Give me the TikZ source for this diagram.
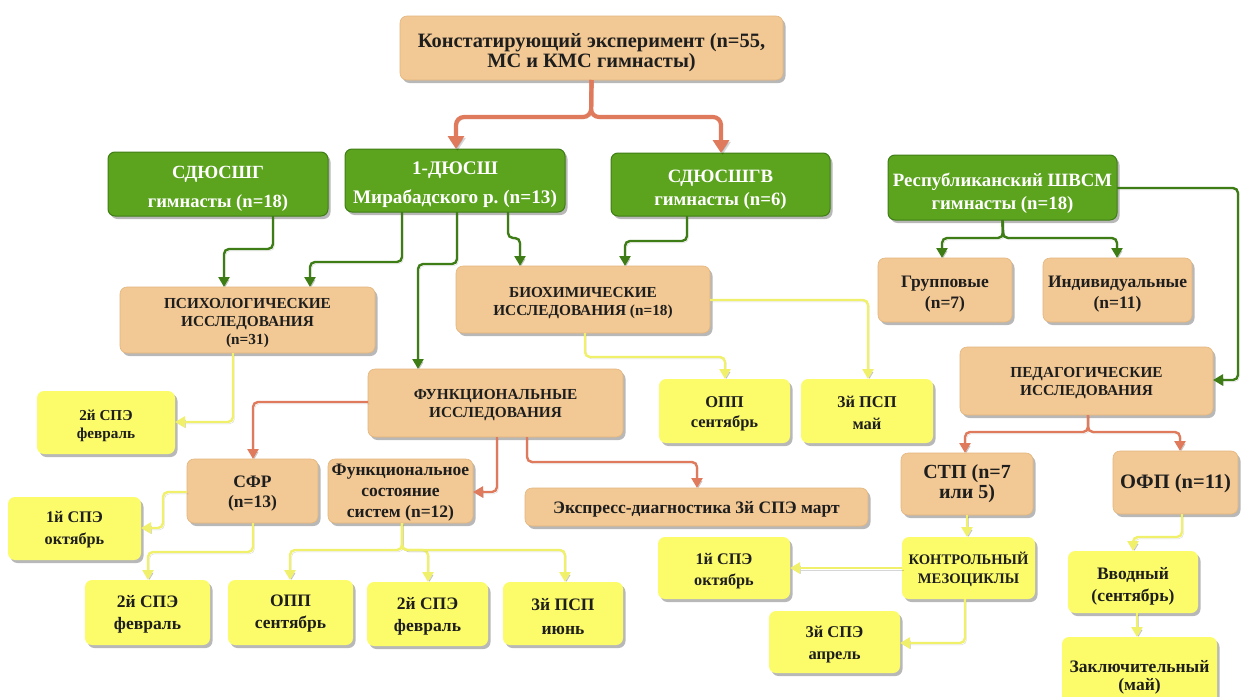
\documentclass[tikz,border=0pt]{standalone}
\usepackage{fontspec}
\setmainfont{Liberation Serif}
\frenchspacing
\usetikzlibrary{arrows.meta,shadows}
\definecolor{tanfill}{HTML}{F2C894}
\definecolor{tanedge}{HTML}{E3B57C}
\definecolor{grfill}{HTML}{5CA31E}
\definecolor{gredge}{HTML}{3F7E16}
\definecolor{yefill}{HTML}{FCFC6A}
\definecolor{garrow}{HTML}{3E7D16}
\definecolor{oarrow}{HTML}{E07A5C}
\definecolor{yarrow}{HTML}{F0F06A}
\definecolor{txt}{HTML}{1E1E1E}

% \boxat[text drop]{name}{box style}{text style}{left}{top}{right}{bottom}{text}
\newcommand{\boxat}[9][2]{%
  \node[#3, minimum width={#7-#5}, minimum height={#8-#6},
    label={[boxtext,#4,yshift=-#1pt]center:{#9}}]
    (#2) at ({(#5+#7)/2},{(#6+#8)/2}) {};}

\begin{document}
\begin{tikzpicture}[x=1pt,y=-1pt,
  base/.style={rounded corners=7pt, inner sep=0pt, outer sep=0pt,
    drop shadow={shadow xshift=2.5pt, shadow yshift=-3pt, opacity=0.28, fill=black}},
  tanbox/.style={base, fill=tanfill, draw=tanedge, line width=0.6pt},
  grbox/.style={base, fill=grfill, draw=gredge, line width=1pt},
  yebox/.style={base, fill=yefill},
  boxtext/.style={align=center, inner sep=0pt, text=txt},
  fs/.style 2 args={font=\fontsize{#1}{#2}\selectfont\bfseries},
  wt/.style={text=white},
  conn/.style={rounded corners=5pt, line width=2.4pt,
    -{Triangle[length=10pt,width=11pt]},
    preaction={draw=black, draw opacity=0.16, fill opacity=0.16,
      transform canvas={xshift=1.5pt, yshift=-1.8pt}}},
  garr/.style={conn, draw=garrow},
  oarr/.style={conn, draw=oarrow},
  yarr/.style={conn, draw=yarrow},
  oarrT/.style={conn, draw=oarrow, line width=4.2pt, rounded corners=8pt,
    -{Triangle[length=13pt,width=16pt]}}
]
\useasboundingbox[fill=white] (0,0) rectangle (1241,696);

% top level
\boxat[4.5]{top}{tanbox}{fs={20.4}{20}}{400}{16}{783}{80}{Констатирующий эксперимент (n=55,\\МС и КМС гимнасты)}

% schools
\boxat[5]{sdg}{grbox}{fs={18.6}{29},wt}{108}{152}{328}{216}{СДЮСШГ\\гимнасты (n=18)}
\boxat[4]{dus}{grbox}{fs={19.2}{29},wt}{345}{149}{565}{212}{1-ДЮСШ\\Мирабадского р. (n=13)}
\boxat[5]{sdv}{grbox}{fs={18.8}{23},wt}{611}{153}{830}{216}{СДЮСШГВ\\гимнасты (n=6)}
\boxat[6]{rep}{grbox}{fs={18.8}{23},wt}{888}{155}{1117}{220}{Республиканский ШВСМ\\гимнасты (n=18)}

% research blocks
\boxat[3]{psy}{tanbox}{fs={15.3}{18}}{120}{287}{375}{353}{ПСИХОЛОГИЧЕСКИЕ\\ИССЛЕДОВАНИЯ\\(n=31)}
\boxat[3.5]{bio}{tanbox}{fs={15.3}{18}}{456}{266}{710}{333}{БИОХИМИЧЕСКИЕ\\ИССЛЕДОВАНИЯ (n=18)}
\boxat[4.5]{grp}{tanbox}{fs={17.5}{21}}{878}{258}{1012}{322}{Групповые\\(n=7)}
\boxat[4.5]{ind}{tanbox}{fs={17.5}{21}}{1043}{258}{1192}{322}{Индивидуальные\\(n=11)}
\boxat[2.5]{ped}{tanbox}{fs={15.3}{18}}{960}{347}{1213}{415}{ПЕДАГОГИЧЕСКИЕ\\ИССЛЕДОВАНИЯ}
\boxat[2]{fun}{tanbox}{fs={15.3}{18}}{368}{369}{623}{437}{ФУНКЦИОНАЛЬНЫЕ\\ИССЛЕДОВАНИЯ}

% functional branch
\boxat[3]{sfr}{tanbox}{fs={17.5}{20}}{187}{459}{318}{523}{СФР\\(n=13)}
\boxat[2]{fss}{tanbox}{fs={17.5}{21}}{328}{459}{473}{523}{Функциональное\\состояние\\систем (n=12)}
\boxat[2]{exp}{tanbox}{fs={17.5}{21}}{525}{488}{868}{526}{Экспресс-диагностика 3й СПЭ март}

% pedagogical branch
\boxat[0]{stp}{tanbox}{fs={20}{20}}{901}{453}{1033}{515}{СТП (n=7\\или 5)}
\boxat[1.5]{ofp}{tanbox}{fs={20.5}{22}}{1113}{451}{1238}{514}{ОФП (n=11)}

% stages
\boxat[3.5]{spe2a}{yebox}{fs={15.2}{18}}{37}{391}{175}{454}{2й СПЭ\\февраль}
\boxat[1.5]{spe1a}{yebox}{fs={16.2}{22}}{8}{497}{141}{560}{1й СПЭ\\октябрь}
\boxat[1.5]{spe2b}{yebox}{fs={17.5}{22}}{85}{580}{210}{645}{2й СПЭ\\февраль}
\boxat[1.5]{opp2}{yebox}{fs={17.5}{22}}{228}{580}{353}{645}{ОПП\\сентябрь}
\boxat[2]{spe2c}{yebox}{fs={17.5}{22}}{367}{582}{488}{646}{2й СПЭ\\февраль}
\boxat[3.5]{psp3b}{yebox}{fs={17.5}{24}}{503}{582}{623}{645}{3й ПСП\\июнь}
\boxat[3]{opp1}{yebox}{fs={16.5}{20}}{659}{379}{790}{443}{ОПП\\сентябрь}
\boxat[2]{psp3a}{yebox}{fs={16.5}{22}}{801}{379}{933}{443}{3й ПСП\\май}
\boxat[3.5]{spe1b}{yebox}{fs={16.2}{21}}{658}{537}{790}{599}{1й СПЭ\\октябрь}
\boxat[3]{spe3}{yebox}{fs={16.5}{22}}{769}{611}{900}{673}{3й СПЭ\\апрель}
\boxat[1.5]{kon}{yebox}{fs={14.6}{19}}{902}{537}{1035}{599}{КОНТРОЛЬНЫЙ\\МЕЗОЦИКЛЫ}
\boxat[4]{vvo}{yebox}{fs={17.5}{22}}{1068}{551}{1198}{613}{Вводный\\(сентябрь)}
\boxat[4]{zak}{yebox}{fs={17.5}{18}}{1062}{637}{1217}{710}{Заключительный\\(май)}

% main split
\draw[oarrT] (top.south) -- (591,117) -- (456,117) -- (dus.north -| 456,0);
\draw[oarrT] (top.south) -- (591,117) -- (721,117) -- (sdv.north -| 721,0);

% schools to research blocks
\draw[garr] (sdg.south -| 273,0) -- (273,249) -- (224,249) -- (psy.north -| 224,0);
\draw[garr] (dus.south -| 402,0) -- (402,262) -- (310,262) -- (psy.north -| 310,0);
\draw[garr] (dus.south -| 457,0) -- (457,264) -- (418,264) -- (fun.north -| 418,0);
\draw[garr] (dus.south -| 508,0) -- (508,238) -- (520,238) -- (bio.north -| 520,0);
\draw[garr] (sdv.south -| 687,0) -- (687,241) -- (625,241) -- (bio.north -| 625,0);
\draw[garr] (rep.south) -- (1003,238) -- (942,238) -- (grp.north -| 942,0);
\draw[garr] (rep.south) -- (1003,238) -- (1117,238) -- (ind.north -| 1117,0);
\draw[garr] (rep.east |- 0,188) -- (1238,188) -- (1238,380) -- (ped.east |- 0,380);

% psychological and biochemical stages
\draw[yarr] (psy.south -| 233,0) -- (233,422) -- (spe2a.east |- 0,422);
\draw[yarr] (bio.south -| 585,0) -- (585,357) -- (725,357) -- (opp1.north -| 725,0);
\draw[yarr] (bio.east |- 0,300) -- (868,300) -- (psp3a.north -| 868,0);

% functional research
\draw[oarr] (fun.west |- 0,402) -- (253,402) -- (sfr.north -| 253,0);
\draw[oarr] (fun.south -| 497,0) -- (497,492) -- (fss.east |- 0,492);
\draw[oarr] (fun.south -| 527,0) -- (527,462) -- (697,462) -- (exp.north -| 697,0);

\draw[yarr] (sfr.west |- 0,492) -- (163,492) -- (163,528) -- (spe1a.east |- 0,528);
\draw[yarr] (sfr.south -| 253,0) -- (253,552) -- (148,552) -- (spe2b.north -| 148,0);
\draw[yarr] (fss.south -| 402,0) -- (402,550) -- (290,550) -- (opp2.north -| 290,0);
\draw[yarr] (fss.south -| 402,0) -- (402,550) -- (428,550) -- (spe2c.north -| 428,0);
\draw[yarr] (fss.south -| 402,0) -- (402,550) -- (565,550) -- (psp3b.north -| 565,0);

% pedagogical research
\draw[oarr] (ped.south -| 1088,0) -- (1088,432) -- (965,432) -- (stp.north -| 965,0);
\draw[oarr] (ped.south -| 1088,0) -- (1088,432) -- (1180,432) -- (ofp.north -| 1180,0);

\draw[yarr] (stp.south -| 967,0) -- (kon.north -| 967,0);
\draw[yarr] (kon.west |- 0,568) -- (spe1b.east |- 0,568);
\draw[yarr] (kon.south -| 965,0) -- (965,643) -- (spe3.east |- 0,643);
\draw[yarr] (ofp.south -| 1182,0) -- (1182,537) -- (1133,537) -- (vvo.north -| 1133,0);
\draw[yarr] (vvo.south -| 1137,0) -- (zak.north -| 1137,0);
\end{tikzpicture}
\end{document}
